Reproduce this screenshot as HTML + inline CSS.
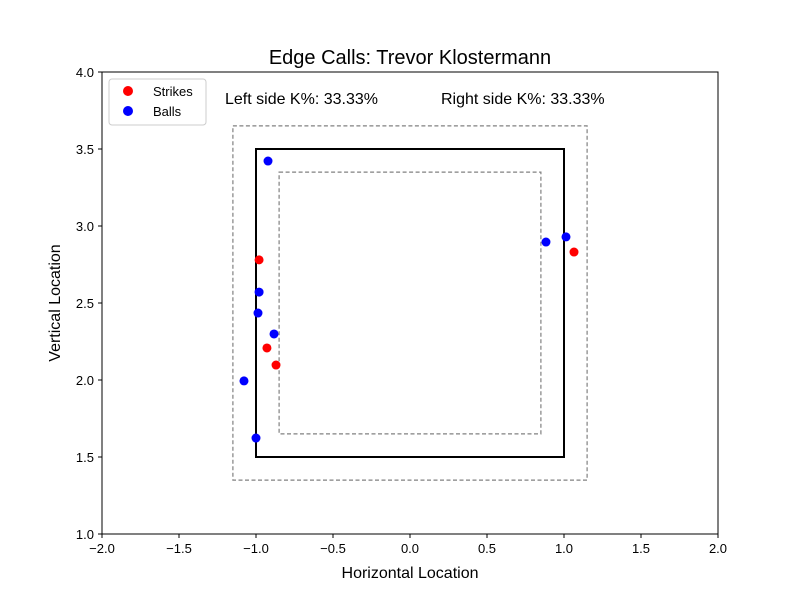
<!DOCTYPE html>
<html><head><meta charset="utf-8"><style>
body{margin:0;background:#fff}
svg text{font-family:"Liberation Sans","DejaVu Sans",sans-serif;fill:#000}
</style></head><body>
<svg id="chart" width="800" height="600" xmlns="http://www.w3.org/2000/svg">
<rect width="800" height="600" fill="#fff"/>
<text x="410" y="64" font-size="20" text-anchor="middle">Edge Calls: Trevor Klostermann</text>
<g id="zones"></g>
<g id="ticks"></g>
<g id="points"></g>
<rect x="102" y="72" width="616" height="462" fill="none" stroke="#000" stroke-width="1" shape-rendering="crispEdges"/>
<text x="410" y="578" font-size="16" text-anchor="middle">Horizontal Location</text>
<text x="60" y="303" font-size="16" text-anchor="middle" transform="rotate(-90 60 303)">Vertical Location</text>
<text x="225" y="104" font-size="16">Left side K%: 33.33%</text>
<text x="441" y="104" font-size="16">Right side K%: 33.33%</text>
<g>
<rect x="109" y="79" width="97" height="46" rx="3" fill="#fff" stroke="#ccc"/>
<circle cx="128" cy="91" r="5" fill="red"/>
<text x="153" y="96" font-size="13">Strikes</text>
<circle cx="128" cy="111" r="5" fill="blue"/>
<text x="153" y="116" font-size="13">Balls</text>
</g>
</svg>
<script>
const strikeX=[1.065,-0.98,-0.929,-0.870];
const strikeY=[2.831,2.78,2.208,2.097];
const ballX=[-0.922,0.883,1.013,-0.98,-0.987,-0.883,-1.078,-1.0];
const ballY=[3.422,2.896,2.929,2.571,2.435,2.299,1.994,1.623];
const xTicks=[-2.0,-1.5,-1.0,-0.5,0.0,0.5,1.0,1.5,2.0];
const yTicks=[1.0,1.5,2.0,2.5,3.0,3.5,4.0];
const NS="http://www.w3.org/2000/svg";
const sx=v=>102+(v+2)/4*616;
const sy=v=>534-(v-1)/3*462;
const fmt=v=>v.toFixed(1).replace('-','\u2212');
function mk(tag,attrs,parent){const e=document.createElementNS(NS,tag);for(const k in attrs)e.setAttribute(k,attrs[k]);document.getElementById(parent).appendChild(e);return e;}
function box(x0,x1,y0,y1,dashed,name){
 const r=mk('rect',{x:sx(x0),y:sy(y1),width:sx(x1)-sx(x0),height:sy(y0)-sy(y1),fill:'none',stroke:dashed?'#808080':'#000','stroke-width':dashed?1.2:2,'stroke-dasharray':dashed?'4,2.5':'none'},'zones');
 
 
}
box(-1.15,1.15,1.35,3.65,true,'outer-edge-zone');
box(-1,1,1.5,3.5,false,'strike-zone');
box(-0.85,0.85,1.65,3.35,true,'inner-edge-zone');
xTicks.forEach(v=>{
 const l=mk('line',{x1:sx(v),x2:sx(v),y1:534,y2:538,stroke:'#000'},'ticks');
 
 
 const t=mk('text',{x:sx(v),y:553,'font-size':13,'text-anchor':'middle'},'ticks');
 t.textContent=fmt(v);
 
 
});
yTicks.forEach(v=>{
 const l=mk('line',{x1:98,x2:102,y1:sy(v),y2:sy(v),stroke:'#000'},'ticks');
 
 
 const t=mk('text',{x:94,y:sy(v)+5,'font-size':13,'text-anchor':'end'},'ticks');
 t.textContent=fmt(v);
 
 
});
strikeX.forEach((v,i)=>{
 const c=mk('circle',{cx:sx(v),cy:sy(strikeY[i]),r:4.5,fill:'red'},'points');
 
 
});
ballX.forEach((v,i)=>{
 const c=mk('circle',{cx:sx(v),cy:sy(ballY[i]),r:4.5,fill:'blue'},'points');
 
 
});
</script>
</body></html>
